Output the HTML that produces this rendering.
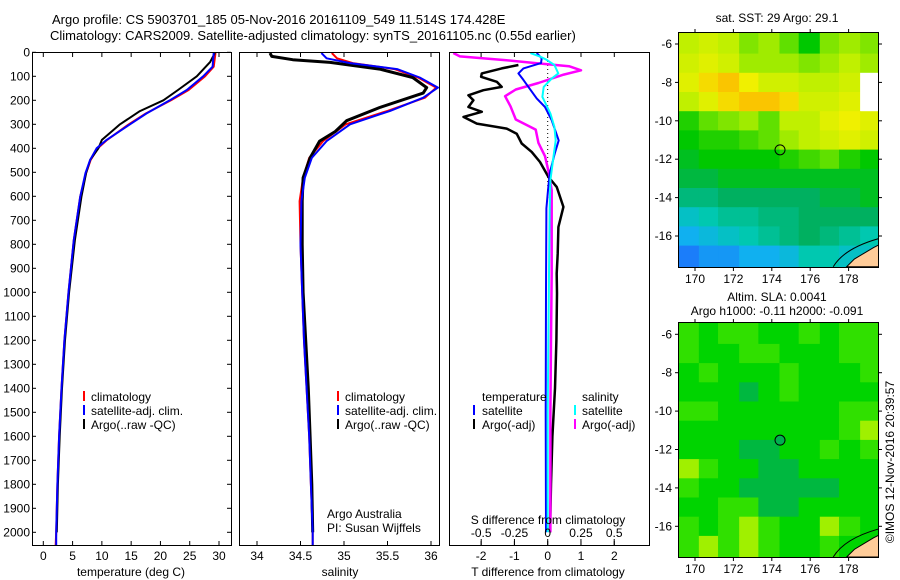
<!DOCTYPE html>
<html><head><meta charset="utf-8"><style>
html,body{margin:0;padding:0;background:#fff;}
svg{display:block;font-family:"Liberation Sans",sans-serif;}
text{font-size:12px;fill:#000;}
</style></head><body>
<svg id="fig" width="900" height="580" viewBox="0 0 900 580" xmlns="http://www.w3.org/2000/svg">
<defs>
<clipPath id="c1"><rect x="33" y="53" width="198" height="492"/></clipPath>
<clipPath id="c2"><rect x="240" y="53" width="199" height="492"/></clipPath>
<clipPath id="c3"><rect x="450" y="53" width="199" height="492"/></clipPath>
<clipPath id="m1"><rect x="679" y="33" width="199" height="234"/></clipPath>
<clipPath id="m2"><rect x="679" y="323" width="199" height="234"/></clipPath>
</defs>
<text x="52" y="24" style="font-size:13px">Argo profile: CS 5903701_185 05-Nov-2016 20161109_549 11.514S 174.428E</text>
<text x="50" y="40" style="font-size:13px">Climatology: CARS2009. Satellite-adjusted climatology: synTS_20161105.nc (0.55d earlier)</text>
<g id="g1" clip-path="url(#c1)"></g>
<g id="g2" clip-path="url(#c2)"></g>
<g id="g3" clip-path="url(#c3)"></g>
<g id="gm1" clip-path="url(#m1)"></g>
<g id="gm2" clip-path="url(#m2)"></g>
<g id="axes"></g>
<rect x="32.5" y="52.5" width="199" height="493" fill="none" stroke="#000"/>
<rect x="239.5" y="52.5" width="200" height="493" fill="none" stroke="#000"/>
<rect x="449.5" y="52.5" width="200" height="493" fill="none" stroke="#000"/>
<rect x="678.5" y="32.5" width="200" height="235" fill="none" stroke="#000"/>
<rect x="678.5" y="322.5" width="200" height="235" fill="none" stroke="#000"/>
<text x="131" y="576" text-anchor="middle">temperature (deg C)</text>
<text x="340" y="576" text-anchor="middle">salinity</text>
<text x="548" y="576" text-anchor="middle">T difference from climatology</text>
<text x="548" y="524" text-anchor="middle">S difference from climatology</text>
<text x="327" y="518">Argo Australia</text>
<text x="327" y="532">PI: Susan Wijffels</text>
<g>
<rect x="83" y="391" width="2" height="10" fill="#f00"/><text x="91" y="401">climatology</text>
<rect x="83" y="405" width="2" height="10" fill="#00f"/><text x="91" y="415">satellite-adj. clim.</text>
<rect x="83" y="419" width="2" height="10" fill="#000"/><text x="91" y="429">Argo(..raw -QC)</text>
</g>
<g>
<rect x="337" y="391" width="2" height="10" fill="#f00"/><text x="345" y="401">climatology</text>
<rect x="337" y="405" width="2" height="10" fill="#00f"/><text x="345" y="415">satellite-adj. clim.</text>
<rect x="337" y="419" width="2" height="10" fill="#000"/><text x="345" y="429">Argo(..raw -QC)</text>
</g>
<g>
<text x="482" y="401">temperature</text>
<rect x="473" y="405" width="2" height="10" fill="#00f"/><text x="482" y="415">satellite</text>
<rect x="473" y="419" width="2" height="10" fill="#000"/><text x="482" y="429">Argo(-adj)</text>
<text x="582" y="401">salinity</text>
<rect x="574" y="405" width="2" height="10" fill="#0ff"/><text x="582" y="415">satellite</text>
<rect x="574" y="419" width="2" height="10" fill="#f0f"/><text x="582" y="429">Argo(-adj)</text>
</g>
<text x="777" y="22" text-anchor="middle">sat. SST: 29 Argo: 29.1</text>
<text x="777" y="301" text-anchor="middle">Altim. SLA: 0.0041</text>
<text x="777" y="315" text-anchor="middle">Argo h1000: -0.11 h2000: -0.091</text>
<text x="0" y="0" transform="translate(894,462) rotate(-90)" text-anchor="middle">©IMOS 12-Nov-2016 20:39:57</text>
</svg>
<script>
// ---- profile data ----
const depthTicks = [0,100,200,300,400,500,600,700,800,900,1000,1100,1200,1300,1400,1500,1600,1700,1800,1900,2000];
const tempTicks = [0,5,10,15,20,25,30];
const salTicks = [34,34.5,35,35.5,36];
const salTickLabels = ["34","34.5","35","35.5","36"];
const dTTicks = [-2,-1,0,1,2];
const dSTicks = [-0.5,-0.25,0,0.25,0.5];
const dSTickLabels = ["-0.5","-0.25","0","0.25","0.5"];

const tClimDepth = [3,60,100,157,200,255,300,365,400,448,503,602,782,1000,1200,1400,1600,1800,2000,2060];
const tClimRed = [29.4,29.1,27.6,24.8,21.8,17.5,14.6,10.9,9.3,8.1,7.3,6.3,5.2,4.3,3.6,3.1,2.7,2.4,2.2,2.1];
const tClimSat = [29.1,28.9,27.3,24.5,21.6,17.6,14.8,10.8,9.1,8.0,7.2,6.3,5.2,4.3,3.6,3.1,2.7,2.4,2.2,2.2];
const tArgoDepth = [3,40,100,157,200,245,300,365,400,448,503,602,782,1000,1200,1400,1600,1800,2000];
const tArgo = [29.3,28.5,26.2,23.0,20.5,16.5,13.1,10.0,9.4,8.0,7.3,6.5,5.4,4.4,3.7,3.2,2.8,2.5,2.3];

const sClimDepth = [3,25,45,70,105,147,189,244,300,370,440,523,620,800,1000,1200,1400,1600,1800,2000,2060];
const sClimRed = [34.86,34.92,35.10,35.58,35.85,36.06,35.93,35.50,35.02,34.76,34.60,34.53,34.49,34.50,34.52,34.54,34.57,34.60,34.62,34.64,34.64];
const sClimSat = [34.74,34.80,35.07,35.61,35.87,36.08,35.91,35.53,35.07,34.80,34.63,34.55,34.51,34.50,34.52,34.54,34.57,34.60,34.62,34.64,34.64];
const sArgoDepth = [3,17,31,42,70,105,147,170,230,285,330,370,440,523,620,800,1000,1200,1400,1600,1800,2000];
const sArgo = [34.15,34.17,34.41,34.84,35.41,35.79,35.95,35.91,35.41,35.03,34.90,34.72,34.61,34.53,34.52,34.52,34.53,34.56,34.59,34.61,34.63,34.64];

const dtArgoDepth = [53,67,88,102,123,144,158,179,200,228,248,269,297,318,339,380,415,457,519,561,644,728,839,922,1005,1200,1400,1600,1800,2000];
const dtArgo = [-0.88,-1.38,-1.98,-2.0,-1.53,-1.38,-1.93,-2.38,-2.23,-2.38,-1.98,-2.53,-2.13,-1.23,-0.93,-0.78,-0.48,-0.23,0.02,0.27,0.47,0.32,0.30,0.27,0.28,0.26,0.22,0.14,0.10,0.07];
const dtSatDepth = [3,25,45,67,88,115,144,192,228,283,367,422,505,575,650,1000,1500,2000];
const dtSat = [-0.33,-0.18,-0.2,-0.73,-0.88,-0.73,-0.58,-0.33,-0.08,0.12,0.33,0.21,0.06,0.01,-0.04,-0.05,-0.06,-0.05];
const dsSatDepth = [3,17,31,53,88,109,144,186,255,311,367,450,533,644,922,1500,2000];
const dsSat = [-0.13,-0.06,-0.01,0.05,0.08,0.03,-0.03,-0.04,0.02,0.05,0.06,0.04,0.02,0.015,0.01,0.0,0.0];
const dsArgoDepth = [3,17,33,45,58,75,93,128,155,183,225,280,322,377,433,505,575,700,922,1200,1500,1800,2000];
const dsArgo = [-0.71,-0.66,-0.31,-0.09,0.16,0.25,0.12,-0.07,-0.24,-0.32,-0.28,-0.24,-0.09,-0.07,-0.02,0.01,0.03,0.03,0.03,0.025,0.02,0.02,0.02];

// ---- map data ----
const mapLonTicks = [170,172,174,176,178];
const mapLatTicks = [-6,-8,-10,-12,-14,-16];
const sstLatEdges = [-5.4,-6.5,-7.5,-8.5,-9.5,-10.5,-11.5,-12.5,-13.5,-14.5,-15.5,-16.5,-17.6];
const sstLonEdges = [169.1,170.2,171.2,172.3,173.3,174.4,175.4,176.5,177.5,178.6,179.7];
const sstGrid = [
 [29.5,29.6,29.5,29.3,29.4,29.2,28.9,29.3,29.4,29.3],
 [29.6,29.7,29.6,29.4,29.4,29.4,29.3,29.4,29.5,29.4],
 [29.7,29.9,30.0,29.8,29.6,29.6,29.5,29.5,29.6,null],
 [29.5,29.7,29.9,30.0,30.0,29.9,29.6,29.6,29.7,null],
 [29.0,29.2,29.3,29.4,29.2,29.5,29.5,29.7,29.8,29.7],
 [28.9,29.0,29.0,29.1,29.2,29.4,29.5,29.6,29.7,29.6],
 [28.8,28.9,28.9,28.9,28.9,29.0,29.1,29.2,29.0,28.9],
 [28.7,28.7,28.8,28.8,28.8,28.8,28.8,28.8,28.8,28.8],
 [28.5,28.5,28.6,28.6,28.6,28.6,28.6,28.7,28.7,28.8],
 [28.2,28.3,28.4,28.4,28.5,28.5,28.6,28.6,28.6,28.6],
 [28.0,28.1,28.2,28.3,28.4,28.5,28.6,28.5,28.4,28.3],
 [27.8,27.9,27.9,28.0,28.0,28.1,28.3,28.3,28.2,28.2]
];
const slaGrid = [
 [2,1,2,2,1,1,2,1,2,2],
 [2,1,1,2,2,1,1,1,2,2],
 [1,2,1,1,1,2,1,1,1,2],
 [1,1,1,0,1,2,1,1,1,1],
 [2,2,1,1,1,1,1,1,2,2],
 [1,1,1,1,1,1,1,1,2,3],
 [1,1,1,0,0,1,1,2,1,2],
 [3,2,1,1,0,0,1,1,1,1],
 [2,1,1,0,0,0,0,0,1,1],
 [1,1,2,2,0,0,1,1,1,1],
 [2,1,2,3,2,1,1,3,2,1],
 [2,3,2,3,2,1,1,2,1,1]
];
const argoLon = 174.428, argoLat = -11.514;

const NS = "http://www.w3.org/2000/svg";
function mk(tag, attrs, parent){const e=document.createElementNS(NS,tag);for(const k in attrs)e.setAttribute(k,attrs[k]);parent.appendChild(e);return e;}
const yD = d => 52.3 + d*0.24;
const xT = t => 43.3 + t*5.857;
const xS = s => 257 + (s-34)*87;
const xDT = t => 547.7 + t*33.3;
const xDS = s => 547.7 + s*133;
const lonX = lon => 695 + (lon-170)*19.2;
const latY1 = lat => 44 + (-6-lat)*19.2;
const latY2 = lat => 334.3 + (-6-lat)*19.2;

const axes = document.getElementById('axes');
function line(x1,y1,x2,y2,parent,name){
  const e = mk('line',{x1:x1,y1:y1,x2:x2,y2:y2,stroke:'#000','stroke-width':1},parent);
  
  
  return e;
}
function label(x,y,txt,anchor,parent,name){
  const e = mk('text',{x:x,y:y,'text-anchor':anchor},parent);
  e.textContent = txt;
  
  
  return e;
}
function series(xs, ds, xf, color, w, parent, name, dash){
  const pts = xs.map((v,i)=> xf(v).toFixed(1)+','+yD(ds[i]).toFixed(1)).join(' ');
  const a = {points:pts,fill:'none',stroke:color,'stroke-width':w,'stroke-linejoin':'round'};
  if(dash) a['stroke-dasharray']=dash;
  const e = mk('polyline',a,parent);
  
  
  return e;
}

// depth ticks and labels
depthTicks.forEach(d=>{
  const y = yD(d);
  line(32,y,36,y,axes,'depth-tick-left');
  line(227,y,231,y,axes,'depth-tick-right');
  label(30,y+4,String(d),'end',axes,'depth-tick-label');
});
// temperature ticks
tempTicks.forEach(t=>{
  const x = xT(t);
  line(x,53,x,57,axes,'temperature-tick-top');
  line(x,541,x,545,axes,'temperature-tick-bottom');
  label(x,560,String(t),'middle',axes,'temperature-tick-label');
});
salTicks.forEach((s,i)=>{
  const x = xS(s);
  line(x,53,x,57,axes,'salinity-tick-top');
  line(x,541,x,545,axes,'salinity-tick-bottom');
  label(x,560,salTickLabels[i],'middle',axes,'salinity-tick-label');
});
dTTicks.forEach(t=>{
  const x = xDT(t);
  line(x,53,x,57,axes,'t-diff-tick-top');
  line(x,541,x,545,axes,'t-diff-tick-bottom');
  label(x,560,String(t),'middle',axes,'t-diff-tick-label');
});
dSTicks.forEach((s,i)=>{
  const x = xDS(s);
  line(x,539,x,545,axes,'s-diff-tick');
  label(x,537,dSTickLabels[i],'middle',axes,'s-diff-tick-label');
});

// profile series
const g1=document.getElementById('g1'), g2=document.getElementById('g2'), g3=document.getElementById('g3');
series(tClimRed,tClimDepth,xT,'#f00',2,g1,'temperature-climatology-line');
series(tArgo,tArgoDepth,xT,'#000',2,g1,'temperature-argo-line');
series(tClimSat,tClimDepth,xT,'#00f',2,g1,'temperature-satellite-clim-line');

series(sClimRed,sClimDepth,xS,'#f00',2,g2,'salinity-climatology-line');
series(sArgo,sArgoDepth,xS,'#000',3,g2,'salinity-argo-line');
series(sClimSat,sClimDepth,xS,'#00f',2,g2,'salinity-satellite-clim-line');

const zl = line(xDT(0),53,xDT(0),yD(620),g3,'zero-reference-line');
zl.setAttribute('stroke-dasharray','1,3');
series(dtArgo,dtArgoDepth,xDT,'#000',2.5,g3,'t-diff-argo-line');
series(dsArgo,dsArgoDepth,xDS,'#f0f',2.5,g3,'s-diff-argo-line');
series(dtSat,dtSatDepth,xDT,'#00f',2,g3,'t-diff-satellite-line');
series(dsSat,dsSatDepth,xDS,'#0ff',2,g3,'s-diff-satellite-line');

// maps
function sstColor(v){
  if(v===null) return '#fff';
  const stops=[[27.7,[32,100,255]],[28.0,[16,176,240]],[28.3,[0,200,176]],[28.6,[0,176,96]],[28.9,[0,200,0]],[29.2,[96,224,0]],[29.5,[192,240,0]],[29.8,[240,240,0]],[30.1,[255,176,0]],[30.5,[208,0,0]]];
  if(v<=stops[0][0]) return 'rgb('+stops[0][1]+')';
  for(let i=1;i<stops.length;i++){
    if(v<=stops[i][0]){
      const f=(v-stops[i-1][0])/(stops[i][0]-stops[i-1][0]);
      const c=stops[i-1][1].map((a,k)=>Math.round(a+(stops[i][1][k]-a)*f));
      return 'rgb('+c+')';
    }
  }
  return 'rgb('+stops[stops.length-1][1]+')';
}
const slaColors=['#00b840','#00d400','#30e000','#a0f000'];
const gm1=document.getElementById('gm1'), gm2=document.getElementById('gm2');
sstGrid.forEach((row,r)=>row.forEach((v,c)=>{
  const x0=lonX(sstLonEdges[c]), x1=lonX(sstLonEdges[c+1]);
  const y0=latY1(sstLatEdges[r]), y1=latY1(sstLatEdges[r+1]);
  const e=mk('rect',{x:x0,y:y0,width:x1-x0+0.5,height:y1-y0+0.5,fill:sstColor(v)},gm1);
  
  
}));
slaGrid.forEach((row,r)=>row.forEach((v,c)=>{
  const x0=lonX(sstLonEdges[c]), x1=lonX(sstLonEdges[c+1]);
  const y0=latY2(sstLatEdges[r]), y1=latY2(sstLatEdges[r+1]);
  const e=mk('rect',{x:x0,y:y0,width:x1-x0+0.5,height:y1-y0+0.5,fill:slaColors[v]},gm2);
  
  
}));
[[gm1,latY1,'sst'],[gm2,latY2,'sla']].forEach(([g,ly,p])=>{
  const pts=[[177.9,-17.6],[178.3,-17.2],[178.8,-16.9],[179.3,-16.6],[179.7,-16.4],[179.7,-17.6]].map(q=>lonX(q[0])+','+ly(q[1])).join(' ');
  const land=mk('polygon',{points:pts,fill:'#ffcc99',stroke:'#000','stroke-width':1},g);
  
  
  const arc=mk('path',{d:'M'+lonX(177.2)+','+ly(-17.6)+' Q'+lonX(177.8)+','+ly(-16.6)+' '+lonX(179.7)+','+ly(-16.1),fill:'none',stroke:'#000','stroke-width':1},g);
  
  
  const ci=mk('circle',{cx:lonX(argoLon),cy:ly(argoLat),r:5,fill:(p==='sla'?'#00b050':'none'),stroke:'#000','stroke-width':1},g);
  
  
});
[[latY1,33,267,'sst'],[latY2,323,557,'sla']].forEach(([ly,top,bot,p])=>{
  mapLonTicks.forEach(lon=>{
    const x=lonX(lon);
    line(x,top,x,top-4,axes,p+'-lon-tick-top');
    line(x,bot,x,bot+4,axes,p+'-lon-tick-bottom');
    label(x,bot+16,String(lon),'middle',axes,p+'-lon-tick-label');
  });
  mapLatTicks.forEach(lat=>{
    const y=ly(lat);
    line(675,y,679,y,axes,p+'-lat-tick-left');
    line(878,y,882,y,axes,p+'-lat-tick-right');
    label(672,y+4,String(lat),'end',axes,p+'-lat-tick-label');
  });
});
</script>
</body></html>
